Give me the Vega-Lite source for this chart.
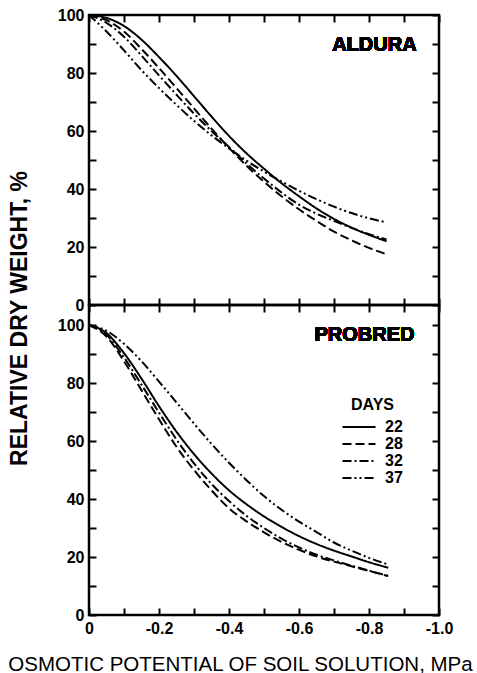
{
  "$schema": "https://vega.github.io/schema/vega-lite/v6.json",
  "padding": 5,
  "bounds": "flush",
  "config": {
    "font": "Liberation Sans",
    "view": {"stroke": "black", "strokeWidth": 2.5},
    "axis": {"grid": false, "domain": false, "tickColor": "black", "tickWidth": 2, "tickSize": -7, "labelColor": "black", "labelFont": "Liberation Sans", "labelFontWeight": "bold", "labelFontSize": 16, "labelOverlap": false, "labelFlush": false, "titleColor": "black"}
  },
  "datasets": {
    "aldura": [
      {"days":"22","x":0,"y":100},{"days":"22","x":-0.05,"y":99},{"days":"22","x":-0.1,"y":96.2},{"days":"22","x":-0.15,"y":91.5},{"days":"22","x":-0.2,"y":85.5},{"days":"22","x":-0.25,"y":79},{"days":"22","x":-0.3,"y":72},{"days":"22","x":-0.35,"y":65},{"days":"22","x":-0.4,"y":58.3},{"days":"22","x":-0.45,"y":52.3},{"days":"22","x":-0.5,"y":47},{"days":"22","x":-0.55,"y":42},{"days":"22","x":-0.6,"y":37.5},{"days":"22","x":-0.65,"y":33.3},{"days":"22","x":-0.7,"y":29.7},{"days":"22","x":-0.75,"y":26.7},{"days":"22","x":-0.8,"y":24.2},{"days":"22","x":-0.85,"y":22},
      {"days":"28","x":0,"y":100},{"days":"28","x":-0.05,"y":98.2},{"days":"28","x":-0.1,"y":94.3},{"days":"28","x":-0.15,"y":88.3},{"days":"28","x":-0.2,"y":81.7},{"days":"28","x":-0.25,"y":74.8},{"days":"28","x":-0.3,"y":67.8},{"days":"28","x":-0.35,"y":60.8},{"days":"28","x":-0.4,"y":54.2},{"days":"28","x":-0.45,"y":48},{"days":"28","x":-0.5,"y":42.5},{"days":"28","x":-0.55,"y":37.5},{"days":"28","x":-0.6,"y":33},{"days":"28","x":-0.65,"y":29},{"days":"28","x":-0.7,"y":25.3},{"days":"28","x":-0.75,"y":22.3},{"days":"28","x":-0.8,"y":19.7},{"days":"28","x":-0.85,"y":17.5},
      {"days":"32","x":0,"y":100},{"days":"32","x":-0.05,"y":97.3},{"days":"32","x":-0.1,"y":92.5},{"days":"32","x":-0.15,"y":86},{"days":"32","x":-0.2,"y":79.2},{"days":"32","x":-0.25,"y":72.5},{"days":"32","x":-0.3,"y":66},{"days":"32","x":-0.35,"y":60},{"days":"32","x":-0.4,"y":54.5},{"days":"32","x":-0.45,"y":48.8},{"days":"32","x":-0.5,"y":43.6},{"days":"32","x":-0.55,"y":38.8},{"days":"32","x":-0.6,"y":34.6},{"days":"32","x":-0.65,"y":31.5},{"days":"32","x":-0.7,"y":29},{"days":"32","x":-0.75,"y":26.6},{"days":"32","x":-0.8,"y":24.4},{"days":"32","x":-0.85,"y":22.6},
      {"days":"37","x":0,"y":100},{"days":"37","x":-0.05,"y":94.3},{"days":"37","x":-0.1,"y":87.8},{"days":"37","x":-0.15,"y":81},{"days":"37","x":-0.2,"y":74.8},{"days":"37","x":-0.25,"y":69},{"days":"37","x":-0.3,"y":63.5},{"days":"37","x":-0.35,"y":58.5},{"days":"37","x":-0.4,"y":54},{"days":"37","x":-0.45,"y":49.8},{"days":"37","x":-0.5,"y":46},{"days":"37","x":-0.55,"y":42.6},{"days":"37","x":-0.6,"y":39.4},{"days":"37","x":-0.65,"y":36.5},{"days":"37","x":-0.7,"y":33.9},{"days":"37","x":-0.75,"y":31.7},{"days":"37","x":-0.8,"y":29.9},{"days":"37","x":-0.85,"y":28.5}
    ],
    "probred": [
      {"days":"22","x":0,"y":100},{"days":"22","x":-0.05,"y":97.2},{"days":"22","x":-0.1,"y":90.3},{"days":"22","x":-0.15,"y":81.5},{"days":"22","x":-0.2,"y":72},{"days":"22","x":-0.25,"y":63.2},{"days":"22","x":-0.3,"y":55.5},{"days":"22","x":-0.35,"y":48.8},{"days":"22","x":-0.4,"y":43},{"days":"22","x":-0.45,"y":38.2},{"days":"22","x":-0.5,"y":34},{"days":"22","x":-0.55,"y":30.4},{"days":"22","x":-0.6,"y":27.2},{"days":"22","x":-0.65,"y":24.5},{"days":"22","x":-0.7,"y":22.2},{"days":"22","x":-0.75,"y":20.2},{"days":"22","x":-0.8,"y":18.2},{"days":"22","x":-0.855,"y":16.3},
      {"days":"28","x":0,"y":100},{"days":"28","x":-0.05,"y":96},{"days":"28","x":-0.1,"y":87.5},{"days":"28","x":-0.15,"y":77.5},{"days":"28","x":-0.2,"y":67.5},{"days":"28","x":-0.25,"y":58},{"days":"28","x":-0.3,"y":50},{"days":"28","x":-0.35,"y":43},{"days":"28","x":-0.4,"y":36.8},{"days":"28","x":-0.45,"y":32.3},{"days":"28","x":-0.5,"y":28.5},{"days":"28","x":-0.55,"y":25.2},{"days":"28","x":-0.6,"y":22.5},{"days":"28","x":-0.65,"y":20.2},{"days":"28","x":-0.7,"y":18.4},{"days":"28","x":-0.75,"y":16.8},{"days":"28","x":-0.8,"y":15.2},{"days":"28","x":-0.855,"y":13.4},
      {"days":"32","x":0,"y":100},{"days":"32","x":-0.05,"y":96.6},{"days":"32","x":-0.1,"y":88.8},{"days":"32","x":-0.15,"y":79.4},{"days":"32","x":-0.2,"y":69.8},{"days":"32","x":-0.25,"y":60.5},{"days":"32","x":-0.3,"y":52.3},{"days":"32","x":-0.35,"y":45.2},{"days":"32","x":-0.4,"y":39.3},{"days":"32","x":-0.45,"y":34.2},{"days":"32","x":-0.5,"y":30},{"days":"32","x":-0.55,"y":26.3},{"days":"32","x":-0.6,"y":23.3},{"days":"32","x":-0.65,"y":20.8},{"days":"32","x":-0.7,"y":18.8},{"days":"32","x":-0.75,"y":17},{"days":"32","x":-0.8,"y":15.3},{"days":"32","x":-0.855,"y":13.5},
      {"days":"37","x":0,"y":100},{"days":"37","x":-0.05,"y":98},{"days":"37","x":-0.1,"y":93.5},{"days":"37","x":-0.15,"y":87.5},{"days":"37","x":-0.2,"y":80.5},{"days":"37","x":-0.25,"y":73.3},{"days":"37","x":-0.3,"y":66},{"days":"37","x":-0.35,"y":59},{"days":"37","x":-0.4,"y":52.5},{"days":"37","x":-0.45,"y":46.5},{"days":"37","x":-0.5,"y":41},{"days":"37","x":-0.55,"y":36.3},{"days":"37","x":-0.6,"y":32.2},{"days":"37","x":-0.65,"y":28.6},{"days":"37","x":-0.7,"y":25},{"days":"37","x":-0.75,"y":22.2},{"days":"37","x":-0.8,"y":19.7},{"days":"37","x":-0.855,"y":17.4}
    ]
  },
  "vconcat": [
    {
      "width": 350,
      "height": 290,
      "data": {"name": "aldura"},
      "layer": [
        {
          "mark": {"type": "line", "color": "black", "strokeWidth": 2, "interpolate": "monotone"},
          "encoding": {
            "x": {"field": "x", "type": "quantitative", "scale": {"domain": [-1, 0], "reverse": true, "nice": false, "zero": false},
                  "axis": {"orient": "bottom", "values": [0,-0.1,-0.2,-0.3,-0.4,-0.5,-0.6,-0.7,-0.8,-0.9,-1], "labels": false, "title": null}},
            "y": {"field": "y", "type": "quantitative", "scale": {"domain": [0, 100], "nice": false},
                  "axis": {"orient": "left", "values": [0,10,20,30,40,50,60,70,80,90,100], "labelExpr": "datum.value % 20 == 0 ? datum.label : ''", "labelPadding": 12,
                           "title": "RELATIVE DRY WEIGHT, %", "titleFontSize": 23, "titleFontWeight": "bold", "titleX": -70, "titleY": 303, "titleAngle": -90, "titleAlign": "center", "titleBaseline": "middle"}},
            "strokeDash": {"field": "days", "type": "nominal", "scale": {"domain": ["22","28","32","37"], "range": [[1,0],[9,4],[9,3,2,3],[9,3,2,3,2,3]]}, "legend": null}
          }
        },
        {
          "mark": {"type": "line", "strokeOpacity": 0},
          "encoding": {
            "x": {"field": "x", "type": "quantitative", "scale": {"domain": [-1, 0], "reverse": true, "nice": false, "zero": false},
                  "axis": {"orient": "top", "values": [0,-0.1,-0.2,-0.3,-0.4,-0.5,-0.6,-0.7,-0.8,-0.9,-1], "labels": false, "title": null}},
            "y": {"field": "y", "type": "quantitative", "scale": {"domain": [0, 100], "nice": false},
                  "axis": {"orient": "right", "values": [0,10,20,30,40,50,60,70,80,90,100], "labels": false, "title": null}},
            "detail": {"field": "days"}
          }
        },
        {
          "mark": {"type": "text", "text": "ALDURA", "font": "Liberation Sans", "fontWeight": "bold", "fontSize": 20, "align": "right", "baseline": "middle", "color": "black"},
          "encoding": {
            "x": {"datum": -0.936, "type": "quantitative", "axis": null},
            "y": {"datum": 89.8, "type": "quantitative", "axis": null}
          }
        }
      ],
      "resolve": {"axis": {"x": "independent", "y": "independent"}}
    },
    {
      "width": 350,
      "height": 310,
      "data": {"name": "probred"},
      "layer": [
        {
          "mark": {"type": "line", "color": "black", "strokeWidth": 2, "interpolate": "monotone"},
          "encoding": {
            "x": {"field": "x", "type": "quantitative", "scale": {"domain": [-1, 0], "reverse": true, "nice": false, "zero": false},
                  "axis": {"orient": "bottom", "values": [0,-0.1,-0.2,-0.3,-0.4,-0.5,-0.6,-0.7,-0.8,-0.9,-1],
                           "labelExpr": "round(datum.value*10) % 2 != 0 ? '' : (datum.value == 0 ? '0' : '-' + format(abs(datum.value), '.1f'))", "labelPadding": 12,
                           "title": "OSMOTIC POTENTIAL OF SOIL SOLUTION, MPa", "titleFontSize": 20.5, "titleFontWeight": "normal", "titleX": 151, "titleY": 49, "titleAlign": "center", "titleBaseline": "middle"}},
            "y": {"field": "y", "type": "quantitative", "scale": {"domain": [0, 106.9], "nice": false},
                  "axis": {"orient": "left", "values": [0,10,20,30,40,50,60,70,80,90,100], "labelExpr": "datum.value % 20 == 0 ? datum.label : ''", "labelPadding": 12, "title": null}},
            "strokeDash": {"field": "days", "type": "nominal", "scale": {"domain": ["22","28","32","37"], "range": [[1,0],[9,4],[9,3,2,3],[9,3,2,3,2,3]]},
                           "legend": {"title": "DAYS", "orient": "none", "legendX": 262, "legendY": 92, "padding": 0,
                                      "titleFont": "Liberation Sans", "titleFontSize": 16, "titleFontWeight": "bold", "titleColor": "black", "titlePadding": 6,
                                      "labelFont": "Liberation Sans", "labelFontSize": 16, "labelFontWeight": "bold", "labelColor": "black", "labelOffset": 18,
                                      "symbolType": "M-3,0H3", "symbolSize": 121, "symbolStrokeWidth": 2, "symbolStrokeColor": "black", "symbolFillColor": "transparent", "rowPadding": 1}}
          }
        },
        {
          "mark": {"type": "line", "strokeOpacity": 0},
          "encoding": {
            "x": {"field": "x", "type": "quantitative", "scale": {"domain": [-1, 0], "reverse": true, "nice": false, "zero": false},
                  "axis": {"orient": "top", "values": [0,-0.1,-0.2,-0.3,-0.4,-0.5,-0.6,-0.7,-0.8,-0.9,-1], "labels": false, "title": null}},
            "y": {"field": "y", "type": "quantitative", "scale": {"domain": [0, 106.9], "nice": false},
                  "axis": {"orient": "right", "values": [0,10,20,30,40,50,60,70,80,90,100], "labels": false, "title": null}},
            "detail": {"field": "days"}
          }
        },
        {
          "mark": {"type": "text", "text": "PROBRED", "font": "Liberation Sans", "fontWeight": "bold", "fontSize": 20, "align": "right", "baseline": "middle", "color": "black"},
          "encoding": {
            "x": {"datum": -0.93, "type": "quantitative", "axis": null},
            "y": {"datum": 96.7, "type": "quantitative", "axis": null}
          }
        }
      ],
      "resolve": {"axis": {"x": "independent", "y": "independent"}}
    }
  ],
  "spacing": 0,
  "resolve": {"legend": {"strokeDash": "independent"}}
}
